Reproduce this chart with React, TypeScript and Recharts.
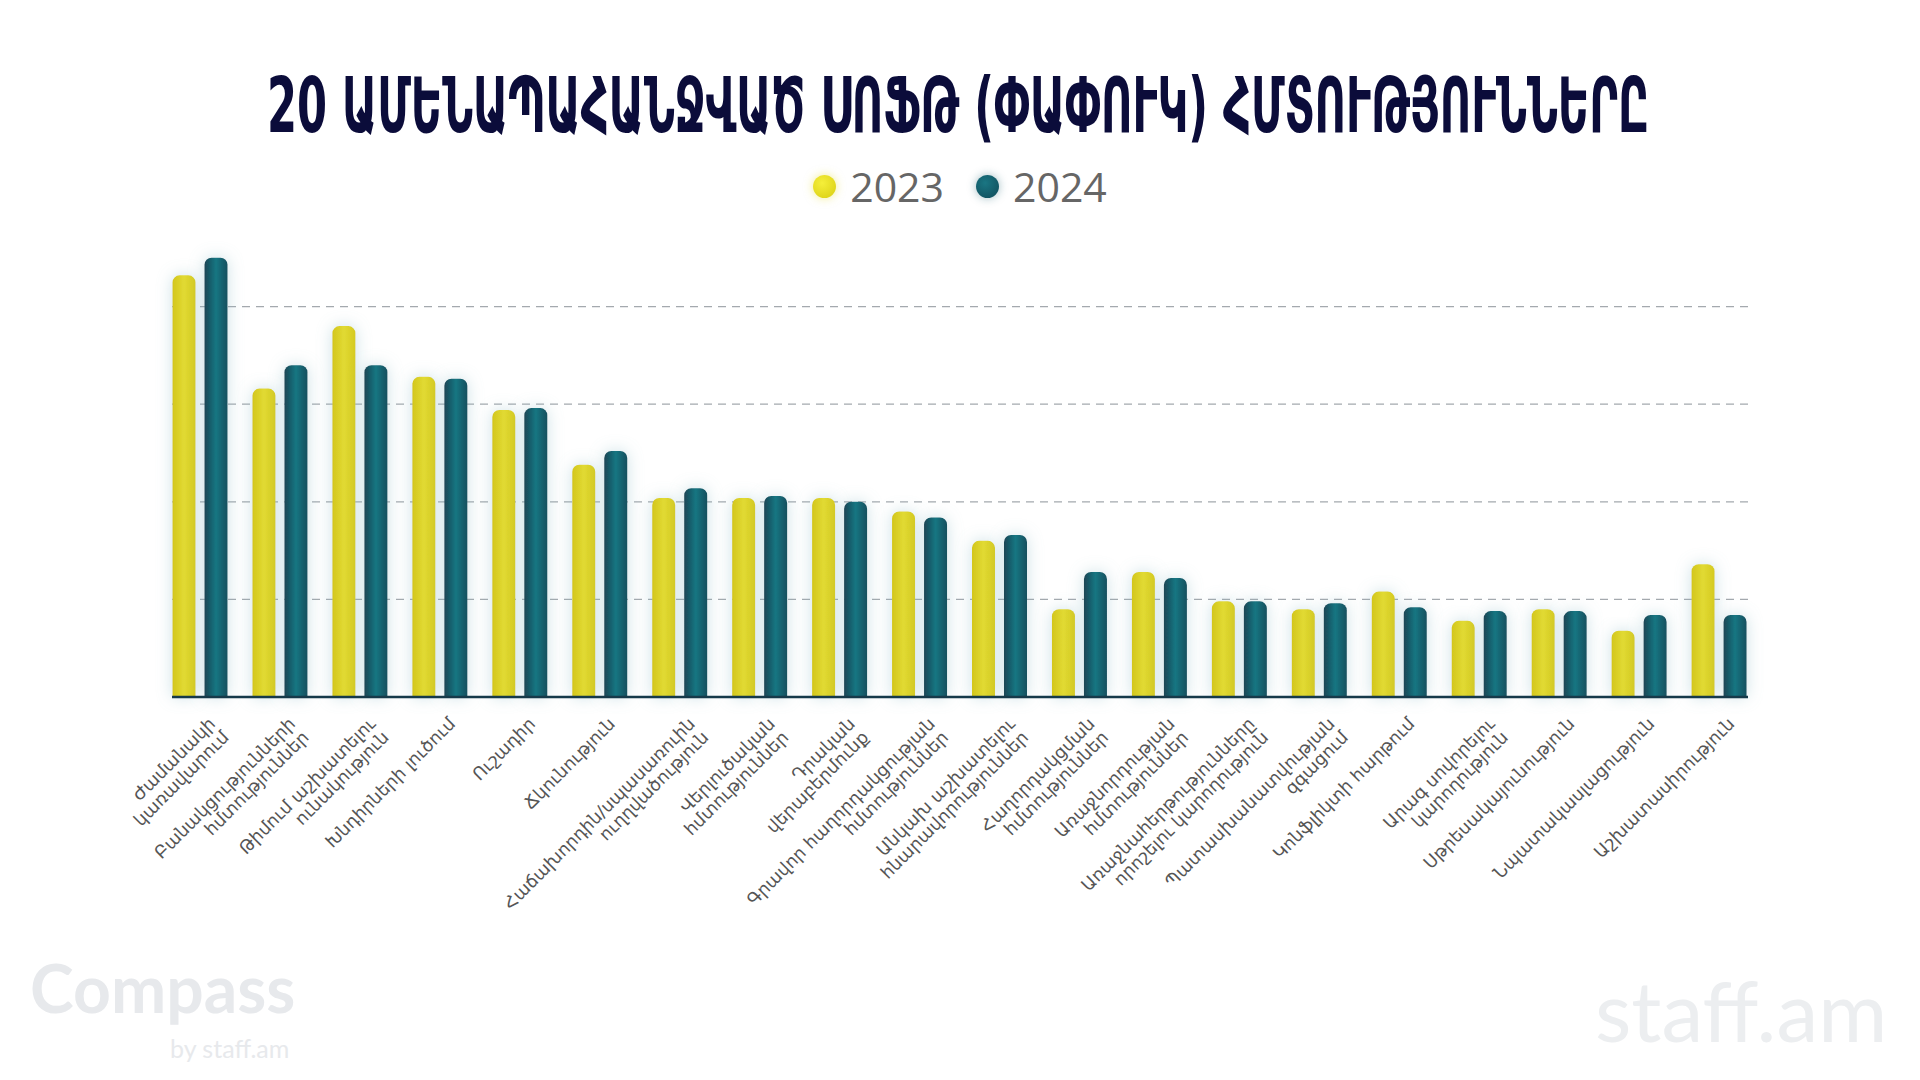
import { BarChart, Bar, XAxis, YAxis, CartesianGrid } from 'recharts';

const categories = [
  'Ժամանակի\nկառավարում',
  'Բանակցությունների\nհմտություններ',
  'Թիմում աշխատելու\nունակություն',
  'Խնդիրների լուծում',
  'Ուշադիր',
  'Ճկունություն',
  'Հաճախորդին/սպասառուին\nուղղվածություն',
  'Վերլուծական\nհմտություններ',
  'Դրական\nվերաբերմունք',
  'Գրավոր հաղորդակցության\nհմտություններ',
  'Անկախ աշխատելու\nհնարավորություններ',
  'Հաղորդակցման\nհմտություններ',
  'Առաջնորդության\nհմտություններ',
  'Առաջնահերթությունները\nորոշելու կարողություն',
  'Պատասխանատվության\nզգացում',
  'Կոնֆլիկտի հարթում',
  'Արագ սովորելու\nկարողություն',
  'Սթրեսակայունություն',
  'Նպատակասլացություն',
  'Աշխատասիրություն',
];

const values2023 = [21.6, 15.8, 19.0, 16.4, 14.7, 11.9, 10.2, 10.2, 10.2, 9.5, 8.0, 4.5, 6.4, 4.9, 4.5, 5.4, 3.9, 4.5, 3.4, 6.8];
const values2024 = [22.5, 17.0, 17.0, 16.3, 14.8, 12.6, 10.7, 10.3, 10.0, 9.2, 8.3, 6.4, 6.1, 4.9, 4.8, 4.6, 4.4, 4.4, 4.2, 4.2];

const seriesNames = ['2023', '2024'];
const yTicks = [0, 5, 10, 15, 20];
const yMax = 25;

const title = '20 ԱՄԵՆԱՊԱՀԱՆՋՎԱԾ ՍՈՖԹ (ՓԱՓՈՒԿ) ՀՄՏՈՒԹՅՈՒՆՆԵՐԸ';

const data = categories.map((name, i) => ({
  name,
  y2023: values2023[i],
  y2024: values2024[i],
}));

const labelFont = '"DejaVu Sans", "Noto Sans", sans-serif';

function AxisTick({ x, y, payload }: any) {
  const lines = String(payload.value).split('\n');
  return (
    <g transform={`translate(${x + 16},${y + 20})`}>
      <text transform="rotate(-45)" textAnchor="end" fill="#555555" fontSize={17.5} fontFamily={labelFont}>
        {lines.map((line, i) => (
          <tspan key={i} x={0} dy={i === 0 ? 0 : 19}>
            {line}
          </tspan>
        ))}
      </text>
    </g>
  );
}

function LegendDot({ color, glow }: { color: string; glow: string }) {
  return (
    <span
      style={{
        width: 23,
        height: 23,
        borderRadius: '50%',
        background: color,
        boxShadow: `0 0 10px ${glow}`,
        display: 'inline-block',
      }}
    />
  );
}

export default function App() {
  return (
    <div
      style={{
        position: 'absolute',
        left: 0,
        top: 0,
        width: 1920,
        height: 1080,
        background: '#ffffff',
        overflow: 'hidden',
      }}
    >
      <BarChart
        width={1920}
        height={1080}
        data={data}
        margin={{ top: 209, right: 172, left: 172, bottom: 183 }}
        barSize={23}
        barGap={9}
        style={{ position: 'absolute', left: 0, top: 0 }}
      >
        <defs>
          <linearGradient id="gradYellow" x1="0" y1="0" x2="1" y2="0">
            <stop offset="0%" stopColor="#d3c61c" />
            <stop offset="50%" stopColor="#e1da33" />
            <stop offset="100%" stopColor="#d5ca20" />
          </linearGradient>
          <linearGradient id="gradTeal" x1="0" y1="0" x2="1" y2="0">
            <stop offset="0%" stopColor="#1c4655" />
            <stop offset="50%" stopColor="#137682" />
            <stop offset="100%" stopColor="#16505f" />
          </linearGradient>
          <filter id="glow" x="-150%" y="-20%" width="400%" height="140%">
            <feDropShadow dx="0" dy="0" stdDeviation="8" floodColor="#7fb3bf" floodOpacity="0.4" />
          </filter>
        </defs>
        <CartesianGrid
          vertical={false}
          horizontalValues={yTicks}
          stroke="#a4a9ae"
          strokeDasharray="8 6"
          strokeWidth={1.3}
        />
        <XAxis
          dataKey="name"
          interval={0}
          height={200}
          padding={{ left: -11.5, right: -11.5 }}
          axisLine={{ stroke: '#163a4a', strokeWidth: 2.5 }}
          tickLine={false}
          tick={<AxisTick />}
        />
        <YAxis hide domain={[0, yMax]} ticks={yTicks} />
        <Bar
          dataKey="y2023"
          name={seriesNames[0]}
          fill="url(#gradYellow)"
          radius={[7, 7, 0, 0]}
          filter="url(#glow)"
          isAnimationActive={false}
        />
        <Bar
          dataKey="y2024"
          name={seriesNames[1]}
          fill="url(#gradTeal)"
          radius={[7, 7, 0, 0]}
          filter="url(#glow)"
          isAnimationActive={false}
        />
      </BarChart>

      <svg width={1920} height={160} style={{ position: 'absolute', left: 0, top: 0 }}>
        <g transform="translate(958,132) scale(1,1.54)">
          <text
            x={0}
            y={0}
            textAnchor="middle"
            textLength={1382}
            lengthAdjust="spacingAndGlyphs"
            fontSize={50}
            fontWeight={700}
            fontFamily='"DejaVu Sans Condensed", "DejaVu Sans", sans-serif'
            fill="#0b0c3a"
          >
            {title}
          </text>
        </g>
      </svg>

      <div
        style={{
          position: 'absolute',
          top: 160,
          left: 0,
          width: 1920,
          height: 52,
          display: 'flex',
          alignItems: 'center',
          justifyContent: 'center',
          fontFamily: '"Open Sans", sans-serif',
          fontSize: 41,
          color: '#666666',
        }}
      >
        <LegendDot color="radial-gradient(circle at 40% 35%, #f5ef3a, #d8cd10)" glow="rgba(230,220,40,0.5)" />
        <span style={{ marginLeft: 14, marginRight: 32 }}>{seriesNames[0]}</span>
        <LegendDot color="radial-gradient(circle at 40% 35%, #1a7683, #0f4a58)" glow="rgba(20,90,105,0.4)" />
        <span style={{ marginLeft: 14 }}>{seriesNames[1]}</span>
      </div>

      <div
        style={{
          position: 'absolute',
          left: 30,
          top: 955,
          fontFamily: 'Lato, "Open Sans", sans-serif',
          fontWeight: 700,
          fontSize: 66,
          color: '#e7e9ec',
          lineHeight: 1,
        }}
      >
        Compass
      </div>
      <div
        style={{
          position: 'absolute',
          left: 170,
          top: 1033,
          fontFamily: 'Lato, "Open Sans", sans-serif',
          fontSize: 25,
          color: '#e7e9ec',
        }}
      >
        by staff.am
      </div>
      <div
        style={{
          position: 'absolute',
          left: 1595,
          top: 968,
          fontFamily: 'Lato, "Open Sans", sans-serif',
          fontSize: 84,
          color: '#eceef0',
          lineHeight: 1,
        }}
      >
        staff.am
      </div>
    </div>
  );
}
